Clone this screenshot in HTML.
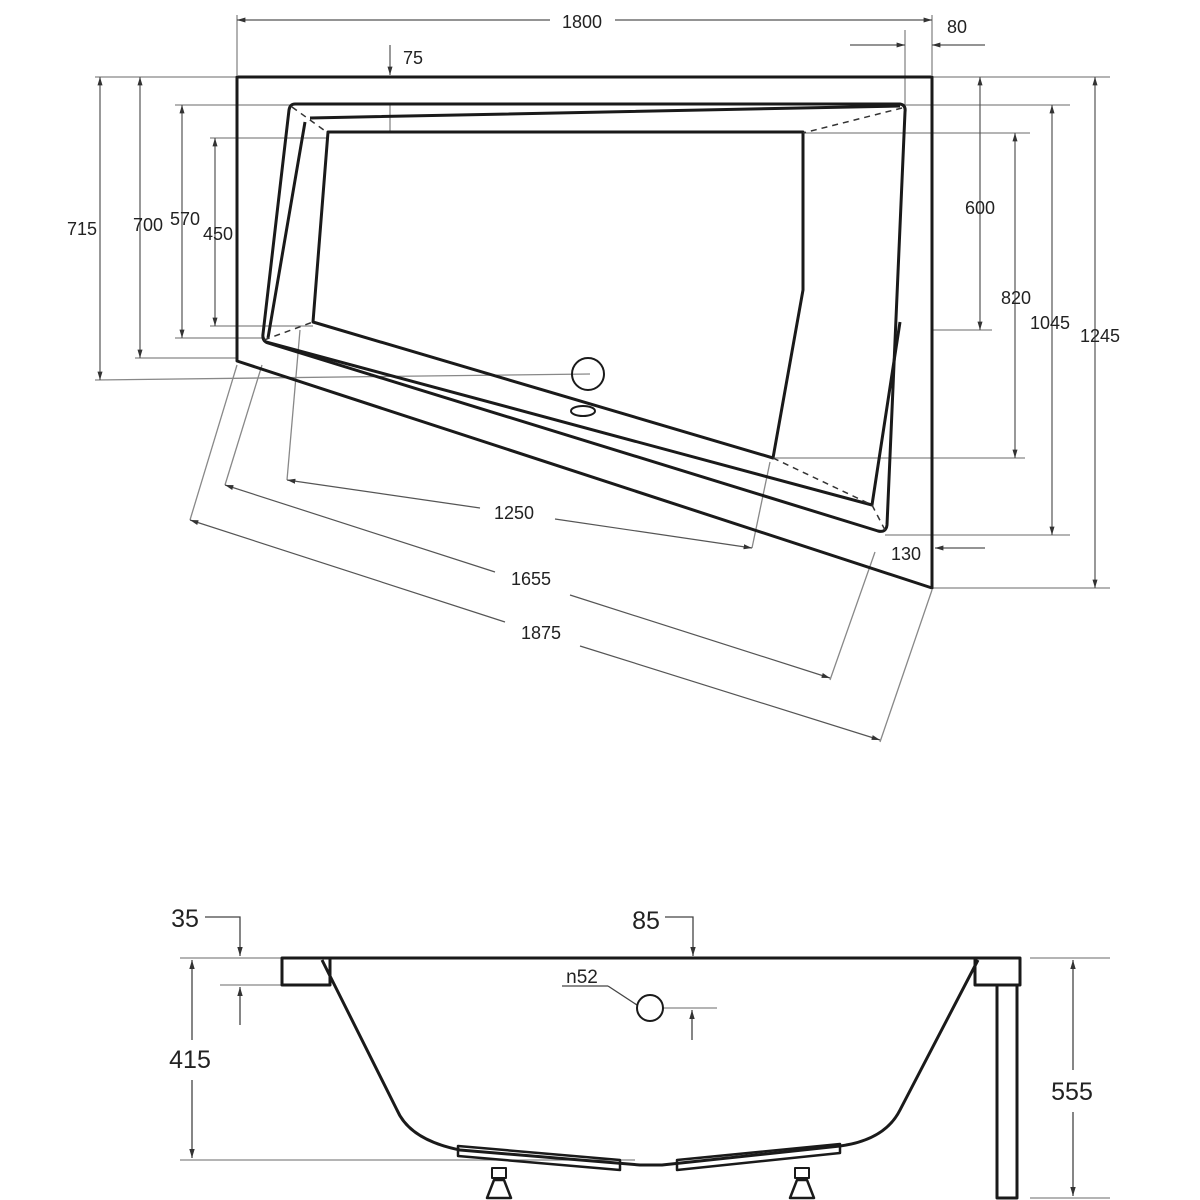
<!DOCTYPE html>
<html><head><meta charset="utf-8"><style>
html,body{margin:0;padding:0;background:#fff;width:1200px;height:1200px;overflow:hidden}
svg{display:block}
text{font-family:"Liberation Sans",sans-serif;fill:#222}
</style></head><body>
<svg width="1200" height="1200" viewBox="0 0 1200 1200" xmlns="http://www.w3.org/2000/svg">
<defs>
<marker id="a" viewBox="0 0 10 10" refX="10" refY="5" markerWidth="7" markerHeight="7" orient="auto-start-reverse"><path d="M0,2 L10,5 L0,8 z" fill="#333"/></marker>
</defs>
<!-- extension lines top view -->
<g stroke="#888" stroke-width="1.3" fill="none">
<line x1="237" y1="15" x2="237" y2="75"/>
<line x1="932" y1="15" x2="932" y2="75"/>
<line x1="905" y1="30" x2="905" y2="105"/>
<line x1="95" y1="77" x2="237" y2="77"/>
<line x1="175" y1="105" x2="290" y2="105"/>
<line x1="210" y1="138" x2="328" y2="138"/>
<line x1="210" y1="326" x2="313" y2="326"/>
<line x1="175" y1="338" x2="265" y2="338"/>
<line x1="135" y1="358" x2="237" y2="358"/>
<line x1="95" y1="380" x2="590" y2="374"/>
<line x1="932" y1="77" x2="1110" y2="77"/>
<line x1="905" y1="105" x2="1070" y2="105"/>
<line x1="803" y1="133" x2="1030" y2="133"/>
<line x1="932" y1="330" x2="992" y2="330"/>
<line x1="773" y1="458" x2="1025" y2="458"/>
<line x1="885" y1="535" x2="1070" y2="535"/>
<line x1="932" y1="588" x2="1110" y2="588"/>
<line x1="287" y1="480" x2="300" y2="330"/>
<line x1="752" y1="548" x2="770" y2="462"/>
<line x1="225" y1="485" x2="262" y2="365"/>
<line x1="830" y1="680" x2="875" y2="552"/>
<line x1="190" y1="520" x2="237" y2="365"/>
<line x1="880" y1="742" x2="932" y2="590"/>
<line x1="390" y1="105" x2="390" y2="133"/>
</g>
<!-- dimension lines -->
<g stroke="#555" stroke-width="1.2" fill="none">
<line x1="237" y1="20" x2="550" y2="20" marker-start="url(#a)"/>
<line x1="615" y1="20" x2="932" y2="20" marker-end="url(#a)"/>
<line x1="850" y1="45" x2="905" y2="45" marker-end="url(#a)"/>
<line x1="985" y1="45" x2="932" y2="45" marker-end="url(#a)"/>
<line x1="390" y1="45" x2="390" y2="75" marker-end="url(#a)"/>
<line x1="100" y1="77" x2="100" y2="380" marker-start="url(#a)" marker-end="url(#a)"/>
<line x1="140" y1="77" x2="140" y2="358" marker-start="url(#a)" marker-end="url(#a)"/>
<line x1="182" y1="105" x2="182" y2="338" marker-start="url(#a)" marker-end="url(#a)"/>
<line x1="215" y1="138" x2="215" y2="326" marker-start="url(#a)" marker-end="url(#a)"/>
<line x1="980" y1="77" x2="980" y2="330" marker-start="url(#a)" marker-end="url(#a)"/>
<line x1="1015" y1="133" x2="1015" y2="458" marker-start="url(#a)" marker-end="url(#a)"/>
<line x1="1052" y1="105" x2="1052" y2="535" marker-start="url(#a)" marker-end="url(#a)"/>
<line x1="1095" y1="77" x2="1095" y2="588" marker-start="url(#a)" marker-end="url(#a)"/>
<line x1="985" y1="548" x2="935" y2="548" marker-end="url(#a)"/>
<line x1="287" y1="480" x2="480" y2="508" marker-start="url(#a)"/>
<line x1="555" y1="519" x2="752" y2="548" marker-end="url(#a)"/>
<line x1="225" y1="485" x2="495" y2="572" marker-start="url(#a)"/>
<line x1="570" y1="595" x2="830" y2="678" marker-end="url(#a)"/>
<line x1="190" y1="520" x2="505" y2="622" marker-start="url(#a)"/>
<line x1="580" y1="646" x2="880" y2="740" marker-end="url(#a)"/>
</g>
<!-- top view body -->
<g stroke="#1a1a1a" stroke-width="3" fill="none" stroke-linejoin="round">
<polygon points="237,77 932,77 932,588 237,361"/>
<path d="M295,104 L900,104 Q906,105 905,112 L887,525 Q886,533 878,531 L268,343 Q262,341 263,334 L289,110 Q290,104 295,104 Z"/>
<path d="M310,118 L900,106 M305,122 L268,338 M266,342 L872,505 L900,322"/>
<path d="M328,132 L803,132 L803,290 L773,458 L313,322 Z"/>
<circle cx="588" cy="374" r="16" stroke-width="2"/>
<ellipse cx="583" cy="411" rx="12" ry="5" stroke-width="2"/>
</g>
<g stroke="#333" stroke-width="1.5" stroke-dasharray="6,5" fill="none">
<line x1="292" y1="107" x2="328" y2="133"/>
<line x1="902" y1="108" x2="803" y2="133"/>
<line x1="264" y1="340" x2="313" y2="322"/>
<line x1="773" y1="458" x2="872" y2="505"/>
<line x1="885" y1="530" x2="872" y2="505"/>
</g>
<g font-size="18">
<text x="582" y="28" text-anchor="middle">1800</text>
<text x="957" y="33" text-anchor="middle">80</text>
<text x="413" y="64" text-anchor="middle">75</text>
<text x="82" y="235" text-anchor="middle">715</text>
<text x="148" y="231" text-anchor="middle">700</text>
<text x="185" y="225" text-anchor="middle">570</text>
<text x="218" y="240" text-anchor="middle">450</text>
<text x="980" y="214" text-anchor="middle">600</text>
<text x="1016" y="304" text-anchor="middle">820</text>
<text x="1050" y="329" text-anchor="middle">1045</text>
<text x="1100" y="342" text-anchor="middle">1245</text>
<text x="906" y="560" text-anchor="middle">130</text>
<text x="514" y="519" text-anchor="middle">1250</text>
<text x="531" y="585" text-anchor="middle">1655</text>
<text x="541" y="639" text-anchor="middle">1875</text>
</g>
<!-- side view -->
<g stroke="#888" stroke-width="1.3" fill="none">
<line x1="180" y1="958" x2="282" y2="958"/>
<line x1="220" y1="985" x2="282" y2="985"/>
<line x1="180" y1="1160" x2="635" y2="1160"/>
<line x1="1030" y1="958" x2="1110" y2="958"/>
<line x1="1030" y1="1198" x2="1110" y2="1198"/>
<line x1="663" y1="1008" x2="717" y2="1008"/>
</g>
<g stroke="#444" stroke-width="1.3" fill="none">
<polyline points="205,917 240,917 240,956" marker-end="url(#a)"/>
<line x1="240" y1="1025" x2="240" y2="987" marker-end="url(#a)"/>
<polyline points="665,917 693,917 693,956" marker-end="url(#a)"/>
<line x1="692" y1="1040" x2="692" y2="1010" marker-end="url(#a)"/>
<line x1="192" y1="960" x2="192" y2="1040" marker-start="url(#a)"/>
<line x1="192" y1="1080" x2="192" y2="1158" marker-end="url(#a)"/>
<line x1="1073" y1="960" x2="1073" y2="1070" marker-start="url(#a)"/>
<line x1="1073" y1="1112" x2="1073" y2="1196" marker-end="url(#a)"/>
<line x1="562" y1="986" x2="608" y2="986"/>
<line x1="608" y1="986" x2="637" y2="1005"/>
</g>
<g stroke="#1a1a1a" stroke-width="3" fill="none" stroke-linejoin="round">
<line x1="282" y1="958" x2="1020" y2="958"/>
<rect x="282" y="958" width="48" height="27"/>
<rect x="975" y="958" width="45" height="27"/>
<rect x="997" y="985" width="20" height="213"/>
<path d="M322,960 L397,1110 Q410,1140 460,1150 L640,1165 L662,1165 L840,1146 Q885,1140 900,1110 L978,960"/>
<path d="M458,1146 L620,1160 L620,1170 L458,1156 Z" stroke-width="2.5"/>
<path d="M677,1160 L840,1144 L840,1153 L677,1170 Z" stroke-width="2.5"/>
<circle cx="650" cy="1008" r="13" stroke-width="2"/>
<rect x="492" y="1168" width="14" height="10" stroke-width="2"/>
<path d="M494,1180 L504,1180 L511,1198 L487,1198 Z" stroke-width="2.5"/>
<rect x="795" y="1168" width="14" height="10" stroke-width="2"/>
<path d="M797,1180 L807,1180 L814,1198 L790,1198 Z" stroke-width="2.5"/>
</g>
<g font-size="25">
<text x="185" y="927" text-anchor="middle">35</text>
<text x="646" y="929" text-anchor="middle">85</text>
<text x="190" y="1068" text-anchor="middle">415</text>
<text x="1072" y="1100" text-anchor="middle">555</text>
<text x="582" y="983" text-anchor="middle" font-size="19">n52</text>
</g>
</svg>
</body></html>
